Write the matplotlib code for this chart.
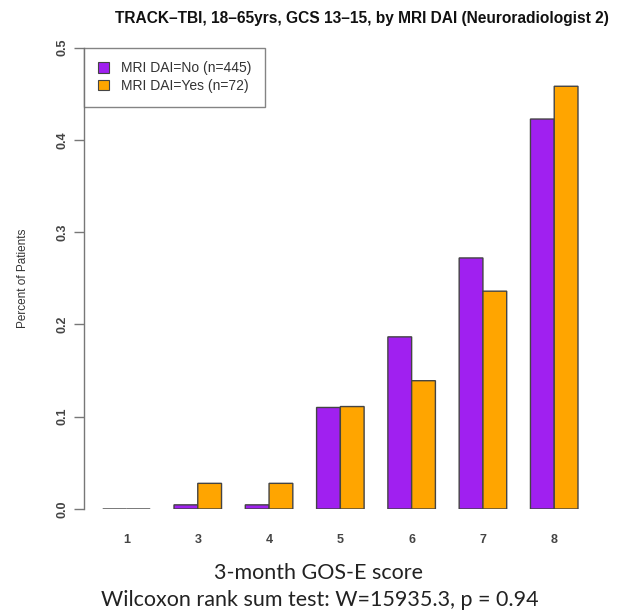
import numpy as np
import matplotlib
matplotlib.use("Agg")
import matplotlib.pyplot as plt
from matplotlib.patches import Patch

# GOS-E categories and share of patients per group
scores = ["1", "3", "4", "5", "6", "7", "8"]
dai_no = [0.0, 0.0045, 0.0045, 0.110, 0.1865, 0.272, 0.4225]
dai_yes = [0.0, 0.0278, 0.0278, 0.111, 0.139, 0.236, 0.458]
labels = ["MRI DAI=No (n=445)", "MRI DAI=Yes (n=72)"]
colors = ["#A020F0", "#FFA500"]
y_ticks = [0.0, 0.1, 0.2, 0.3, 0.4, 0.5]

plt.rcParams['font.family'] = ['Liberation Sans', 'DejaVu Sans']

fig = plt.figure(figsize=(6.26, 6.15), dpi=100)
ax = fig.add_axes([83.7 / 626, (615 - 509) / 615, (597 - 83.7) / 626, (509 - 47.5) / 615])

# R barplot layout: bar width 1, one unit gap before each group
left_no = 1 + 3 * np.arange(len(scores))
ax.bar(left_no, dai_no, width=1, align="edge", color=colors[0], edgecolor="#444444", linewidth=1.0, snap=False)
ax.bar(left_no + 1, dai_yes, width=1, align="edge", color=colors[1], edgecolor="#444444", linewidth=1.0, snap=False)

ax.set_xlim(0.2, 21.8)
ax.set_ylim(0, 0.5)
for s in ["top", "right", "bottom"]:
    ax.spines[s].set_visible(False)
ax.spines["left"].set_color("#777777")
ax.spines["left"].set_linewidth(1.0)

ax.set_yticks(y_ticks)
ax.set_yticklabels([f"{t:.1f}" for t in y_ticks], rotation=90, va="center", fontsize=9,
                   fontweight="bold", color="#444444")
ax.tick_params(axis="y", length=7, width=1, color="#777777", pad=4)
ax.set_xticks(left_no + 1)
ax.set_xticklabels(scores, fontsize=9, fontweight="bold", color="#444444")
ax.tick_params(axis="x", length=0, pad=18)

ax.set_ylabel("Percent of Patients", fontsize=8.5, color="#333333", labelpad=20)

handles = [Patch(facecolor=c, edgecolor="#444444", linewidth=0.8) for c in colors]
leg = ax.legend(handles, labels, loc="upper left", bbox_to_anchor=(0, 1), borderaxespad=0,
                fontsize=10, frameon=True, fancybox=False, handlelength=0.8, handleheight=0.8,
                handletextpad=0.9, borderpad=1.0, labelspacing=0.25)
leg.get_frame().set_edgecolor("#666666")
leg.get_frame().set_linewidth(1.0)
for t in leg.get_texts():
    t.set_color("#333333")

fig.text(362 / 626, 1 - 18 / 615, "TRACK\u2013TBI, 18\u201365yrs, GCS 13\u201315, by MRI DAI (Neuroradiologist 2)",
         ha="center", va="center", fontsize=11.2, fontweight="bold", color="#111111")

fig.text(318 / 626, 1 - 573 / 615, "3-month GOS-E score", ha="center", va="center",
         fontsize=15.5, family=["Lato", "DejaVu Sans"], color="#222222")
fig.text(320 / 626, 1 - 600 / 615, "Wilcoxon rank sum test: W=15935.3, p = 0.94", ha="center", va="center",
         fontsize=15.5, family=["Lato", "DejaVu Sans"], color="#222222")

fig.savefig("out.png", dpi=100)
